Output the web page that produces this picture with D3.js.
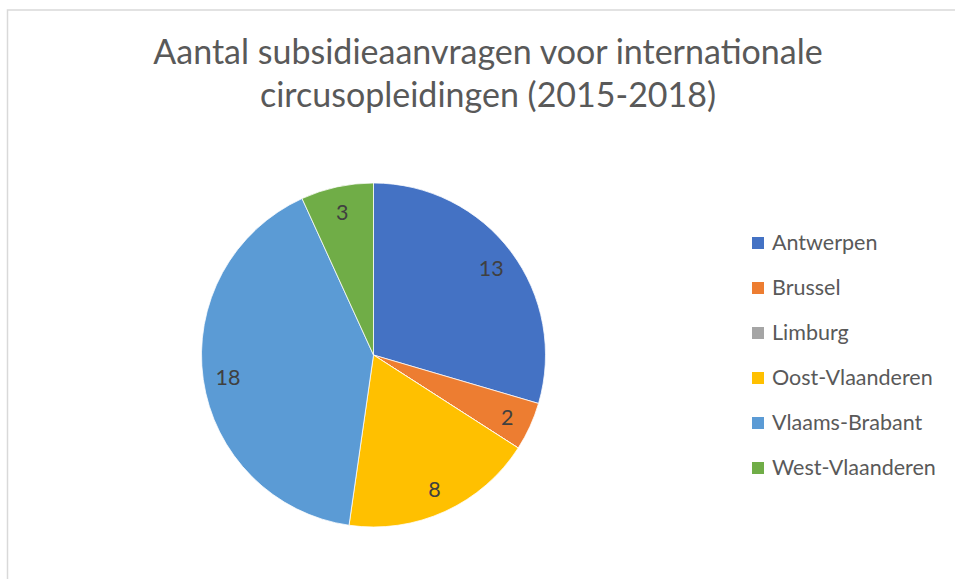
<!DOCTYPE html>
<html>
<head>
<meta charset="utf-8">
<script src="https://cdn.jsdelivr.net/npm/d3@7"></script>
<style>
  html, body { margin: 0; padding: 0; background: #fff; }
  svg { display: block; }
</style>
</head>
<body>
<svg id="chart" width="955" height="579"></svg>
<script>
const categories = ["Antwerpen", "Brussel", "Limburg", "Oost-Vlaanderen", "Vlaams-Brabant", "West-Vlaanderen"];
const values = [13, 2, 0, 8, 18, 3];
const colors = ["#4472C4", "#ED7D31", "#A5A5A5", "#FFC000", "#5B9BD5", "#70AD47"];
const titleLines = ["Aantal subsidieaanvragen voor internationale", "circusopleidingen (2015-2018)"];

const FONT = "Lato, 'Open Sans', sans-serif";
const svg = d3.select("#chart");

// chart area border
svg.append("rect")
  .attr("x", 7.5).attr("y", 10).attr("width", 1200).attr("height", 1200)
  .attr("fill", "none").attr("stroke", "#d9d9d9").attr("stroke-width", 1.5);

// title
const title = svg.append("text")
  .attr("text-anchor", "middle")
  .attr("fill", "#595959")
  .style("font-family", FONT)
  .style("font-size", "34px");
titleLines.forEach((t, i) => {
  title.append("tspan").attr("x", 488).attr("y", 64 + i * 43).text(t);
});

// pie
const cx = 373.5, cy = 355, R = 172, labelR = 147;
const color = d3.scaleOrdinal().domain(categories).range(colors);
const data = categories.map((c, i) => ({ name: c, value: values[i] }));
const pie = d3.pie().value(d => d.value).sort(null);
const arcs = pie(data);
const arc = d3.arc().innerRadius(0).outerRadius(R);
const labelArc = d3.arc().innerRadius(labelR).outerRadius(labelR);

const g = svg.append("g").attr("transform", `translate(${cx},${cy})`);
g.selectAll("path.slice")
  .data(arcs)
  .join("path")
  .attr("class", "slice")
  .attr("d", arc)
  .attr("fill", d => color(d.data.name))
  .attr("stroke", "#ffffff")
  .attr("stroke-width", 0.75);

g.selectAll("text.lbl")
  .data(arcs.filter(d => d.data.value > 0))
  .join("text")
  .attr("class", "lbl")
  .attr("transform", d => `translate(${labelArc.centroid(d)})`)
  .attr("text-anchor", "middle")
  .attr("dy", "0.4em")
  .attr("fill", "#404040")
  .style("font-family", FONT)
  .style("font-size", "21.5px")
  .text(d => d.data.value);

// legend
const lg = svg.append("g");
const rows = lg.selectAll("g.row")
  .data(categories)
  .join("g")
  .attr("class", "row")
  .attr("transform", (d, i) => `translate(752, ${250 + i * 45})`);
rows.append("rect")
  .attr("x", 0).attr("y", -13).attr("width", 12).attr("height", 12)
  .attr("fill", d => color(d));
rows.append("text")
  .attr("x", 20).attr("y", 0)
  .attr("fill", "#595959")
  .style("font-family", FONT)
  .style("font-size", "21.5px")
  .text(d => d);
</script>
</body>
</html>
